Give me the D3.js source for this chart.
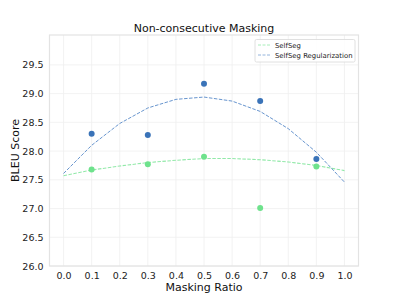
<!DOCTYPE html>
<html><head><meta charset="utf-8">
<script src="https://cdn.jsdelivr.net/npm/d3@7"></script>
<style>body{margin:0;background:#fff}svg{display:block;font-family:"DejaVu Sans",sans-serif}</style>
</head><body><svg id="c" width="399" height="299"></svg>
<script>
const ratios = [0.1, 0.3, 0.5, 0.7, 0.9];
const selfSeg = [27.68, 27.77, 27.90, 27.01, 27.73];
const selfSegReg = [28.30, 28.28, 29.17, 28.87, 27.86];
const fitX = [0.0, 0.1, 0.2, 0.3, 0.4, 0.5, 0.6, 0.7, 0.8, 0.9, 1.0];
const selfSegFit = [27.57, 27.67, 27.74, 27.80, 27.84, 27.87, 27.87, 27.85, 27.81, 27.75, 27.66];
const selfSegRegFit = [27.61, 28.10, 28.48, 28.75, 28.90, 28.94, 28.87, 28.69, 28.39, 27.98, 27.46];
const xTicks = [0.0, 0.1, 0.2, 0.3, 0.4, 0.5, 0.6, 0.7, 0.8, 0.9, 1.0];
const yTicks = [26.0, 26.5, 27.0, 27.5, 28.0, 28.5, 29.0, 29.5];
const seriesNames = ["SelfSeg", "SelfSeg Regularization"];

const svg = d3.select("#c");
const L = 49.5, R = 358.5, T = 35, B = 266;
const x = d3.scaleLinear().domain([-0.05, 1.05]).range([L, R]);
const y = d3.scaleLinear().domain([26, 30.02]).range([B, T]);

// grid
svg.append("g").selectAll("line").data(xTicks).join("line")
  .attr("x1", d => x(d)).attr("x2", d => x(d)).attr("y1", T).attr("y2", B)
  .attr("stroke", "#efefef").attr("stroke-width", 0.8);
svg.append("g").selectAll("line").data(yTicks).join("line")
  .attr("y1", d => y(d)).attr("y2", d => y(d)).attr("x1", L).attr("x2", R)
  .attr("stroke", "#efefef").attr("stroke-width", 0.8);

// frame
svg.append("rect").attr("x", L).attr("y", T).attr("width", R - L).attr("height", B - T)
  .attr("fill", "none").attr("stroke", "#e3e3e3").attr("stroke-width", 1.2);

// axes
const xAxis = d3.axisBottom(x).tickValues(xTicks).tickFormat(d3.format(".1f")).tickSize(0).tickPadding(6);
const gx = svg.append("g").attr("transform", `translate(0,${B})`).call(xAxis);
gx.select(".domain").remove();
gx.selectAll("text").attr("font-size", 9.5).attr("fill", "#222").attr("font-family", "DejaVu Sans");
const yAxis = d3.axisLeft(y).tickValues(yTicks).tickFormat(d3.format(".1f")).tickSize(0).tickPadding(6);
const gy = svg.append("g").attr("transform", `translate(${L},0)`).call(yAxis);
gy.select(".domain").remove();
gy.selectAll("text").attr("font-size", 9.5).attr("fill", "#222").attr("font-family", "DejaVu Sans");

// labels
svg.append("text").attr("x", (L + R) / 2).attr("y", 31.5).attr("text-anchor", "middle")
  .attr("font-size", 11).attr("fill", "#111").text("Non-consecutive Masking");
svg.append("text").attr("x", (L + R) / 2).attr("y", 290.5).attr("text-anchor", "middle")
  .attr("font-size", 11).attr("fill", "#111").text("Masking Ratio");
svg.append("text").attr("transform", `translate(18.5,${(T + B) / 2}) rotate(-90)`).attr("text-anchor", "middle")
  .attr("font-size", 11).attr("fill", "#111").text("BLEU Score");

const green = "#6ee28c", blue = "#3a73b8";
const line = d3.line().x((d, i) => x(fitX[i])).y(d => y(d));
svg.append("path").datum(selfSegFit).attr("d", line).attr("fill", "none")
  .attr("stroke", green).attr("stroke-opacity", 0.75).attr("stroke-width", 1.1).attr("stroke-dasharray", "3.5,1.5");
svg.append("path").datum(selfSegRegFit).attr("d", line).attr("fill", "none")
  .attr("stroke", "#4d83c6").attr("stroke-opacity", 0.85).attr("stroke-width", 1).attr("stroke-dasharray", "3.5,1.5");

svg.append("g").selectAll("circle").data(selfSegReg).join("circle")
  .attr("cx", (d, i) => x(ratios[i])).attr("cy", d => y(d)).attr("r", 3).attr("fill", blue);
svg.append("g").selectAll("circle").data(selfSeg).join("circle")
  .attr("cx", (d, i) => x(ratios[i])).attr("cy", d => y(d)).attr("r", 3).attr("fill", green);

// legend
const lg = svg.append("g");
lg.append("rect").attr("x", 255).attr("y", 39.5).attr("width", 100).attr("height", 22.5)
  .attr("fill", "#fff").attr("fill-opacity", 0.85).attr("stroke", "#d8d8d8").attr("stroke-width", 0.8).attr("rx", 1.5);
const lcols = [green, "#4d83c6"];
seriesNames.forEach((n, i) => {
  const yy = 45 + i * 10;
  lg.append("line").attr("x1", 258).attr("x2", 270).attr("y1", yy).attr("y2", yy)
    .attr("stroke", lcols[i]).attr("stroke-opacity", 0.6).attr("stroke-width", 1).attr("stroke-dasharray", "3,1.5");
  lg.append("text").attr("x", 275).attr("y", yy + 2.5).attr("font-size", 6.9).attr("fill", "#222").text(n);
});
</script></body></html>
